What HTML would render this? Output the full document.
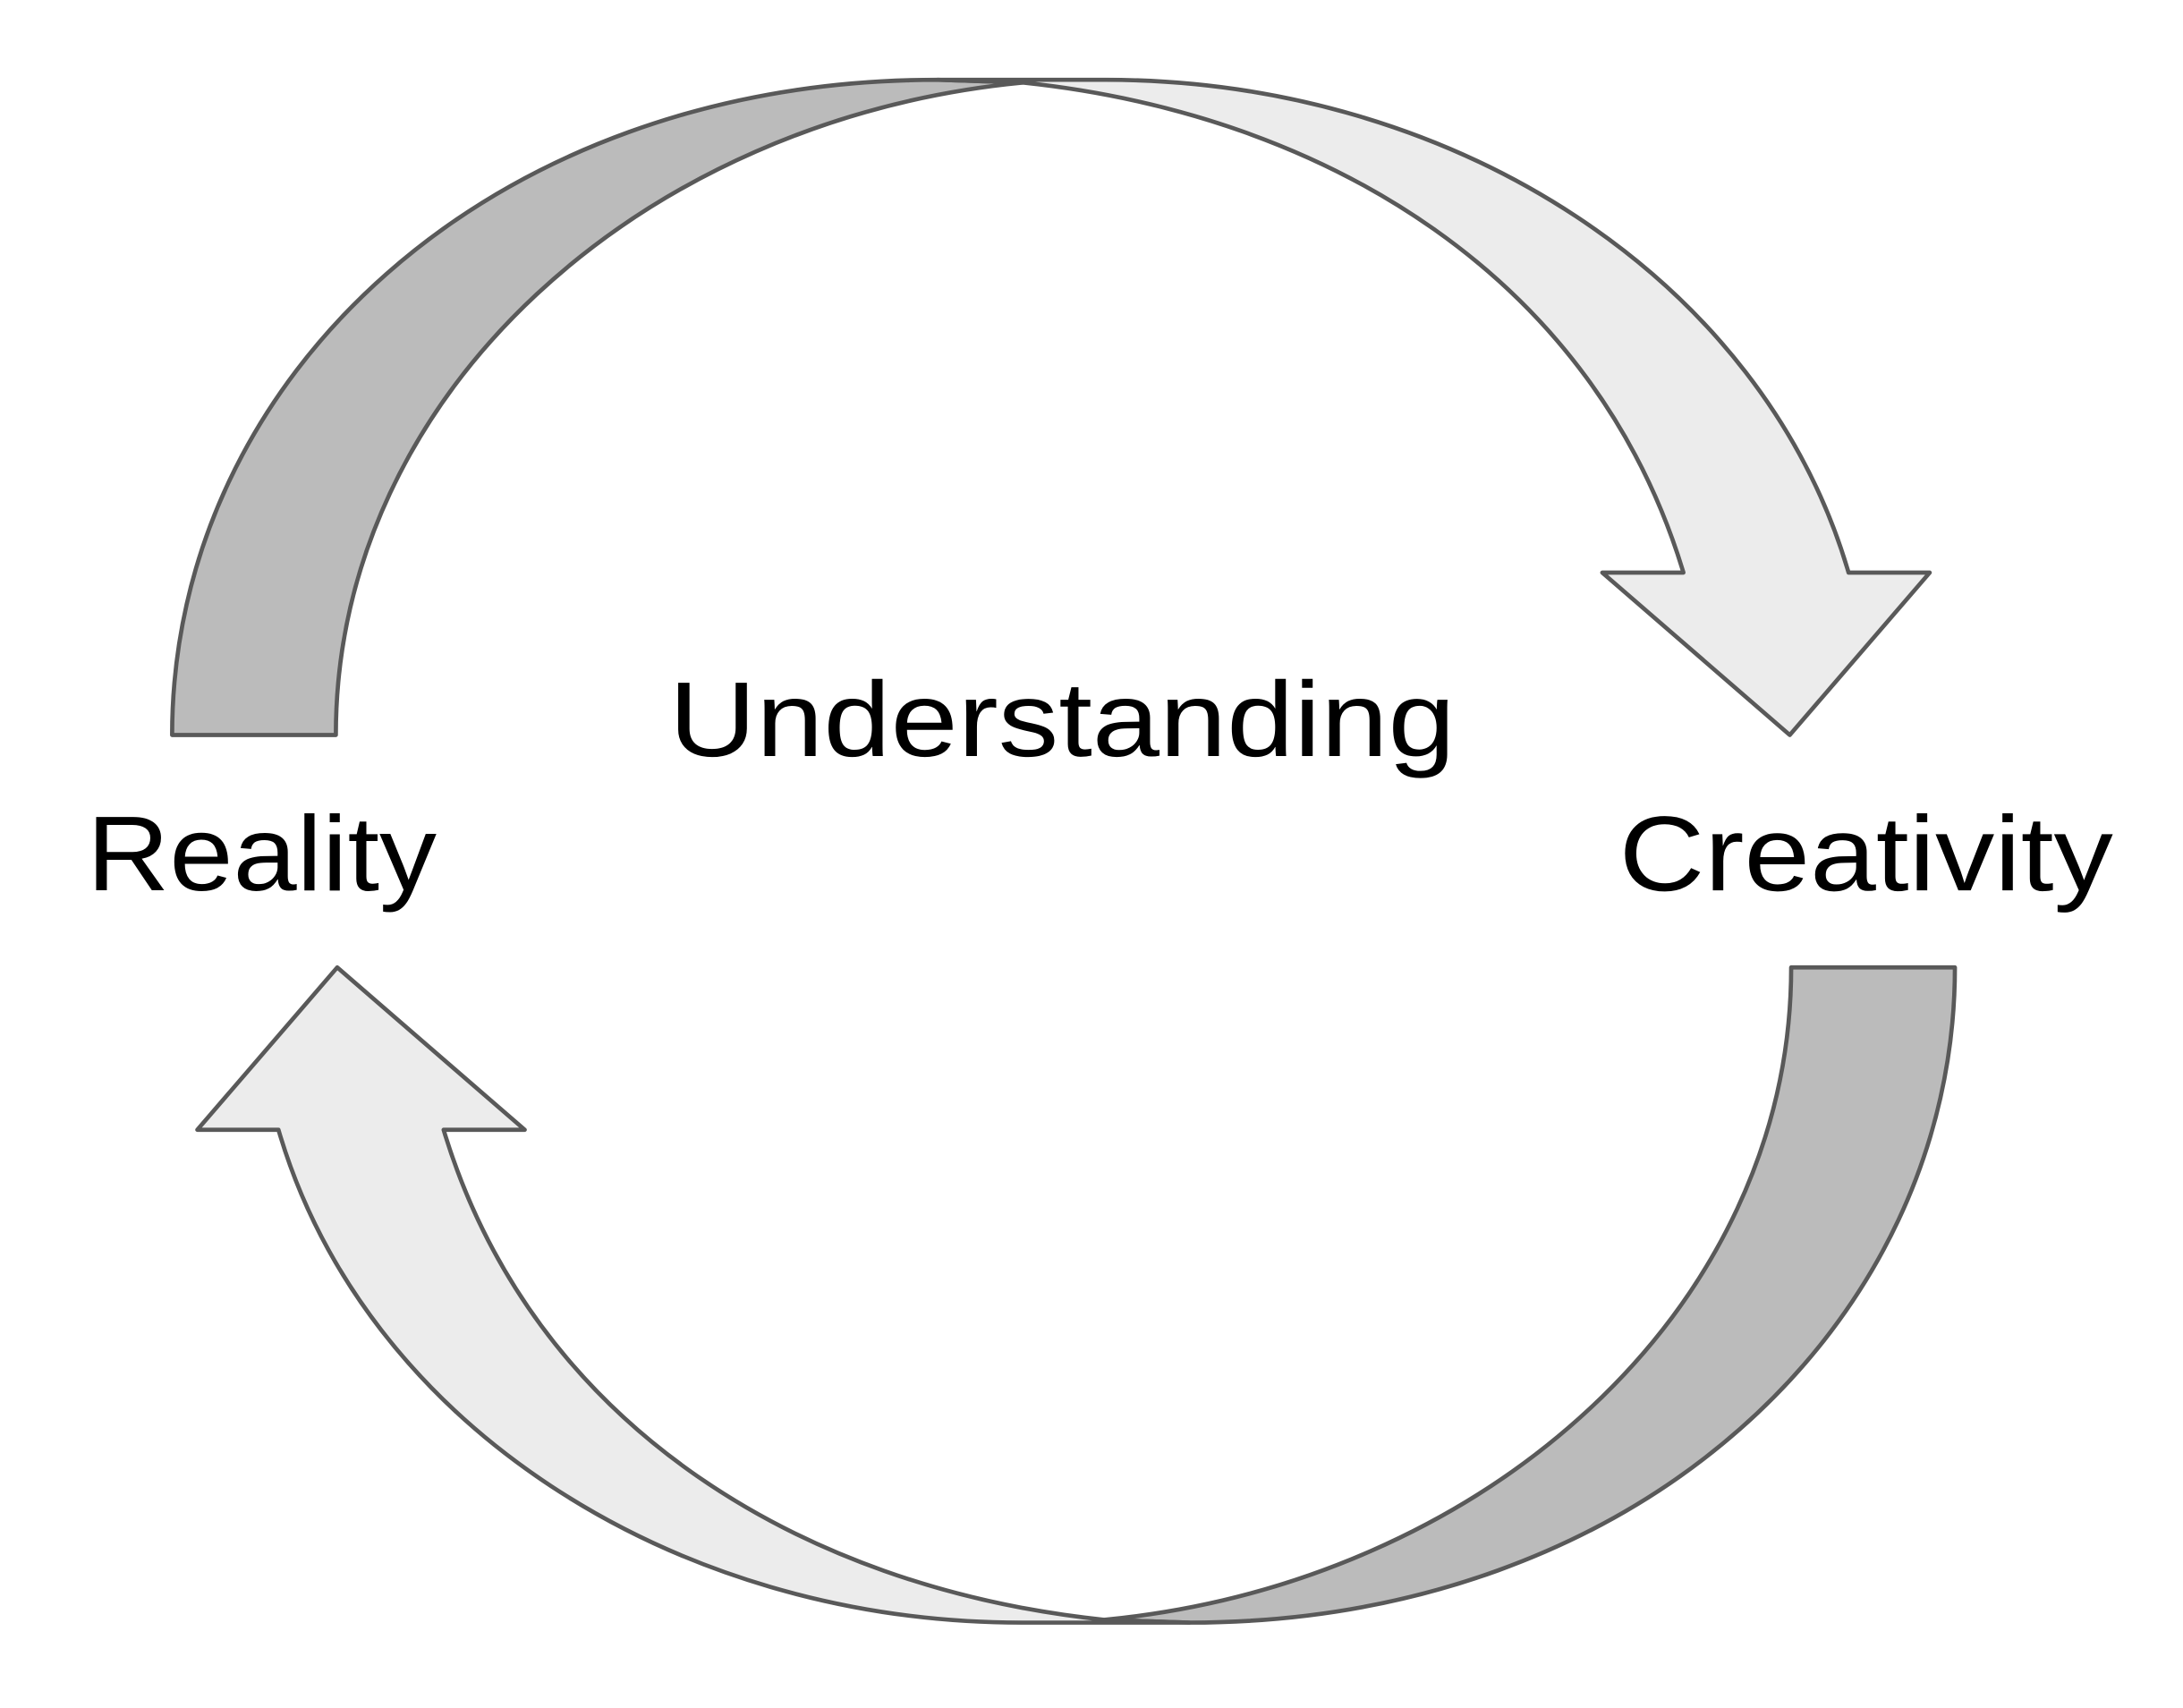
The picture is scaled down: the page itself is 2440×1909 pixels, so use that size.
<!DOCTYPE html>
<html><head><style>html,body{margin:0;padding:0;background:#fff}svg{display:block}</style></head>
<body>
<svg width="2440" height="1909" viewBox="0 0 1560 1220" preserveAspectRatio="none" xmlns="http://www.w3.org/2000/svg">
<g id="top" stroke="#595959" stroke-width="3" stroke-linejoin="round">
<path d="M123,525 C123,270 350,57 670,57 L731,59 C460,85 240,280 240,525 Z" fill="#bbbbbb"/>
<path d="M731,59 L670,57 L790,57 C1040,57 1260,200 1321,409 L1379,409 L1279,525 L1145,409 L1203,409 C1140,200 950,82 731,59 Z" fill="#ececec"/>
</g>
<g transform="rotate(180 760 608)" stroke="#595959" stroke-width="3" stroke-linejoin="round">
<path d="M123,525 C123,270 350,57 670,57 L731,59 C460,85 240,280 240,525 Z" fill="#bbbbbb"/>
<path d="M731,59 L670,57 L790,57 C1040,57 1260,200 1321,409 L1379,409 L1279,525 L1145,409 L1203,409 C1140,200 950,82 731,59 Z" fill="#ececec"/>
</g>
<g font-family="Liberation Sans, sans-serif" font-size="76" fill="#000">
<text x="478" y="540" textLength="562" lengthAdjust="spacingAndGlyphs">Understanding</text>
<text x="62" y="636" textLength="250" lengthAdjust="spacingAndGlyphs">Reality</text>
<text x="1157" y="636" textLength="353" lengthAdjust="spacingAndGlyphs">Creativity</text>
</g>
</svg>
</body></html>
